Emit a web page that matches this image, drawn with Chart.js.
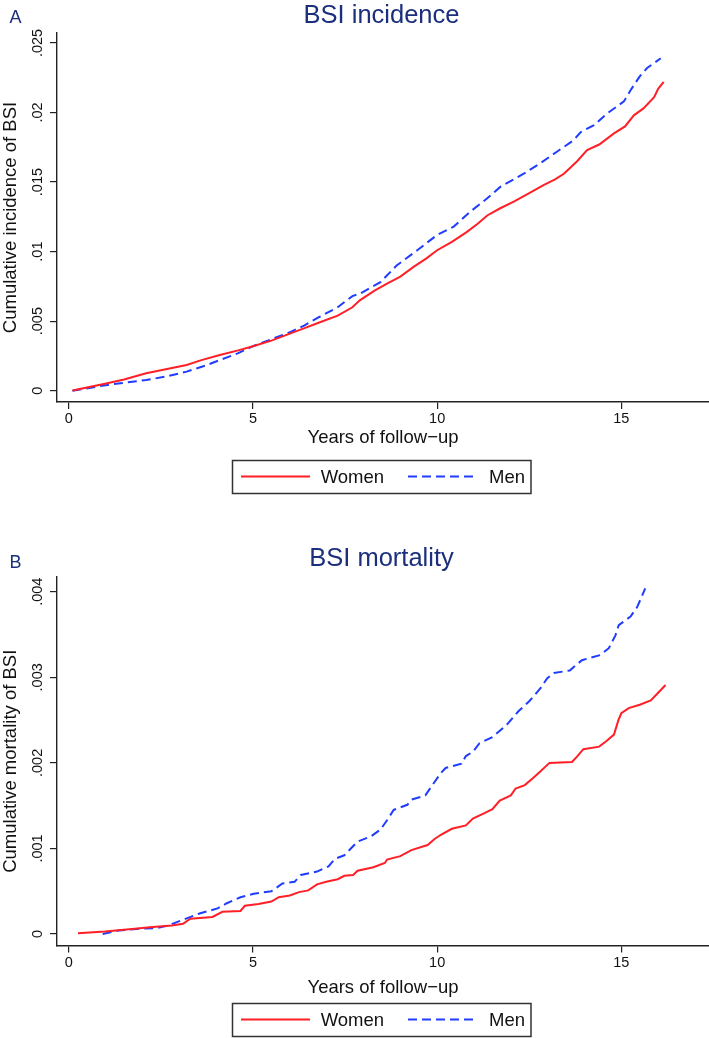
<!DOCTYPE html>
<html>
<head>
<meta charset="utf-8">
<script src="https://cdn.jsdelivr.net/npm/chart.js@4.4.1/dist/chart.umd.min.js"></script>
<style>
  html, body { margin: 0; padding: 0; background: #fff; }
  body { width: 709px; height: 1038px; position: relative; overflow: hidden; font-family: "Liberation Sans", Arial, Helvetica, sans-serif; }
  canvas { position: absolute; left: 0; }
  #cA { top: 0; }
  #cB { top: 519px; }
  svg.ov { position: absolute; left: 0; top: 0; pointer-events: none; }
</style>
</head>
<body>
<canvas id="cA" width="709" height="460"></canvas>
<canvas id="cB" width="709" height="484"></canvas>
<svg class="ov" width="709" height="1038" xmlns="http://www.w3.org/2000/svg" id="ov"></svg>
<script>
// ---------------- DATA ----------------
const seriesNames = ["Women", "Men"];
const panelLetters = ["A", "B"];
const panelTitles = ["BSI incidence", "BSI mortality"];
const yTitles = ["Cumulative incidence of BSI", "Cumulative mortality of BSI"];
const xTitle = "Years of follow\u2212up";

const xTickValues = [0, 5, 10, 15];
const xTickLabels = ["0", "5", "10", "15"];
const yTickValuesA = [0, 0.005, 0.01, 0.015, 0.02, 0.025];
const yTickLabelsA = ["0", ".005", ".01", ".015", ".02", ".025"];
const yTickValuesB = [0, 0.001, 0.002, 0.003, 0.004];
const yTickLabelsB = ["0", ".001", ".002", ".003", ".004"];

// Panel A – cumulative incidence
const womenA_years = [0.1, 0.95, 1.5, 2.1, 2.6, 3.2, 3.6, 4.1, 4.6, 5.0, 5.5, 6.0, 6.4, 6.8, 7.3, 7.7, 7.9, 8.3, 8.64, 9.0, 9.36, 9.7, 10.0, 10.4, 10.8, 11.1, 11.36, 11.7, 12.08, 12.5, 12.9, 13.2, 13.44, 13.8, 14.07, 14.4, 14.8, 15.1, 15.34, 15.6, 15.89, 16.0, 16.15];
const womenA_cum   = [0.00002, 0.00048, 0.0008, 0.00125, 0.00152, 0.00185, 0.0022, 0.00257, 0.0029, 0.0032, 0.0036, 0.0041, 0.0045, 0.0049, 0.0054, 0.006, 0.0065, 0.0072, 0.0077, 0.0082, 0.0089, 0.0095, 0.0101, 0.0107, 0.0114, 0.012, 0.0126, 0.0131, 0.0136, 0.0142, 0.0148, 0.0152, 0.0156, 0.0165, 0.0173, 0.0177, 0.0185, 0.019, 0.0198, 0.0203, 0.0211, 0.0217, 0.0222];
const menA_years = [0.1, 1.0, 1.6, 2.1, 2.6, 3.2, 3.7, 4.1, 4.6, 5.0, 5.5, 6.0, 6.4, 6.8, 7.3, 7.7, 7.92, 8.46, 8.9, 9.46, 10.0, 10.45, 10.9, 11.36, 11.72, 12.35, 12.8, 13.26, 13.7, 13.9, 14.26, 14.6, 15.07, 15.25, 15.5, 15.7, 16.07];
const menA_cum   = [0, 0.0004, 0.0006, 0.00077, 0.001, 0.00137, 0.0018, 0.0022, 0.0027, 0.0032, 0.0037, 0.0042, 0.0047, 0.0053, 0.006, 0.0068, 0.007, 0.0078, 0.009, 0.0101, 0.0112, 0.0118, 0.01287, 0.01383, 0.01467, 0.0156, 0.01635, 0.0172, 0.018, 0.0186, 0.0191, 0.0199, 0.0208, 0.0216, 0.0226, 0.0232, 0.0239];

// Panel B – cumulative mortality
const womenB_years = [0.25, 0.98, 1.72, 2.2, 2.8, 3.1, 3.3, 3.9, 4.17, 4.66, 4.78, 5.15, 5.5, 5.7, 6.0, 6.25, 6.5, 6.74, 6.99, 7.3, 7.48, 7.72, 7.84, 8.27, 8.58, 8.64, 9.0, 9.3, 9.74, 9.93, 10.1, 10.4, 10.78, 10.97, 11.27, 11.5, 11.7, 12.0, 12.13, 12.38, 12.62, 12.8, 13.05, 13.66, 13.79, 13.97, 14.4, 14.58, 14.8, 14.92, 15.0, 15.2, 15.5, 15.8, 16.0, 16.2];
const womenB_cum   = [0.00001, 0.00003, 0.00006, 0.00008, 0.0001, 0.00012, 0.00018, 0.0002, 0.00026, 0.00027, 0.00033, 0.00035, 0.00038, 0.00043, 0.00045, 0.00049, 0.00051, 0.00058, 0.00061, 0.00064, 0.00068, 0.00069, 0.00074, 0.00078, 0.00083, 0.00087, 0.00091, 0.00098, 0.00104, 0.00111, 0.00116, 0.00123, 0.00127, 0.00135, 0.00141, 0.00146, 0.00156, 0.00162, 0.0017, 0.00174, 0.00183, 0.0019, 0.002, 0.00201, 0.00207, 0.00216, 0.00219, 0.00225, 0.00233, 0.0025, 0.00258, 0.00264, 0.00268, 0.00273, 0.00282, 0.00291];
const menB_years = [0.92, 1.35, 1.84, 2.39, 2.7, 3.06, 3.55, 4.04, 4.29, 4.66, 5.02, 5.5, 5.8, 6.13, 6.3, 6.74, 7.05, 7.23, 7.48, 7.84, 8.2, 8.46, 8.64, 8.82, 9.19, 9.3, 9.68, 9.87, 10.1, 10.23, 10.66, 10.78, 10.97, 11.15, 11.5, 11.9, 12.2, 12.5, 12.8, 12.99, 13.17, 13.6, 13.93, 14.43, 14.66, 14.84, 14.93, 15.25, 15.43, 15.65];
const menB_cum   = [0, 0.00004, 0.00006, 0.00007, 0.0001, 0.00016, 0.00024, 0.0003, 0.00036, 0.00043, 0.00047, 0.0005, 0.00059, 0.00061, 0.00069, 0.00073, 0.00079, 0.00088, 0.00092, 0.00108, 0.00114, 0.00122, 0.00133, 0.00145, 0.00151, 0.00157, 0.00162, 0.00174, 0.00188, 0.00194, 0.00199, 0.00208, 0.00213, 0.00223, 0.0023, 0.00245, 0.0026, 0.00272, 0.00287, 0.00299, 0.00305, 0.00308, 0.0032, 0.00326, 0.00334, 0.00349, 0.00361, 0.00371, 0.00382, 0.00404];

// ---------------- STYLE ----------------
const FONT = '"Liberation Sans", Arial, Helvetica, sans-serif';
const RED = '#ff1f26';
const BLUE = '#1f3cff';
const NAVY = '#1b2f7d';
const AXIS = '#222222';
const DASH = [9, 5];

function pts(xs, ys) { return xs.map((x, i) => ({ x: x, y: ys[i] })); }

function makeChart(id, cfg) {
  const ctx = document.getElementById(id).getContext('2d');
  return new Chart(ctx, {
    type: 'line',
    data: {
      datasets: [
        { label: seriesNames[0], data: pts(cfg.wx, cfg.wy), borderColor: RED, borderWidth: 2, pointRadius: 0, tension: 0, fill: false },
        { label: seriesNames[1], data: pts(cfg.mx, cfg.my), borderColor: BLUE, borderWidth: 2, borderDash: DASH, pointRadius: 0, tension: 0, fill: false }
      ]
    },
    options: {
      responsive: false,
      animation: false,
      devicePixelRatio: 1,
      layout: { padding: { top: cfg.padTop, left: 0, right: 0, bottom: 0 } },
      plugins: { legend: { display: false }, tooltip: { enabled: false }, title: { display: false } },
      scales: {
        x: {
          type: 'linear',
          min: -0.32, max: 17.38,
          afterBuildTicks: s => { s.ticks = xTickValues.map(v => ({ value: v })); },
          afterFit: s => { s.height = cfg.xH; },
          ticks: {
            callback: (v, i) => xTickLabels[i],
            font: { family: FONT, size: 14.5 }, color: '#111', padding: cfg.xTickPad,
            maxRotation: 0, minRotation: 0, autoSkip: false
          },
          grid: { drawOnChartArea: false, drawTicks: true, tickLength: 7, color: AXIS, lineWidth: 1.2 },
          border: { display: true, color: AXIS, width: 1.4 },
          title: { display: true, text: xTitle, font: { family: FONT, size: 18.5 }, color: '#111', padding: { top: 0, bottom: cfg.xTitlePad } }
        },
        y: {
          type: 'linear',
          min: cfg.ymin, max: cfg.ymax,
          afterBuildTicks: s => { s.ticks = cfg.yTicks.map(v => ({ value: v })); },
          afterFit: s => { s.width = 57; },
          ticks: {
            callback: (v, i) => cfg.yLabels[i],
            font: { family: FONT, size: 14.5 }, color: '#111', padding: -2.3,
            minRotation: 90, maxRotation: 90, crossAlign: 'center', autoSkip: false
          },
          grid: { drawOnChartArea: false, drawTicks: true, tickLength: 7, color: AXIS, lineWidth: 1.2 },
          border: { display: true, color: AXIS, width: 1.4 },
          title: { display: true, text: cfg.yTitle, font: { family: FONT, size: 18.5 }, color: '#111', padding: { top: 0, bottom: 0 } }
        }
      }
    }
  });
}

makeChart('cA', {
  wx: womenA_years, wy: womenA_cum, mx: menA_years, my: menA_cum,
  padTop: 33, xH: 58, xTickPad: 1.7, xTitlePad: 10.5,
  ymin: -0.000812, ymax: 0.025719,
  yTicks: yTickValuesA, yLabels: yTickLabelsA, yTitle: yTitles[0]
});
makeChart('cB', {
  wx: womenB_years, wy: womenB_cum, mx: menB_years, my: menB_cum,
  padTop: 58, xH: 57.5, xTickPad: 1.5, xTitlePad: 4,
  ymin: -0.000134, ymax: 0.004172,
  yTicks: yTickValuesB, yLabels: yTickLabelsB, yTitle: yTitles[1]
});

// ---------------- TITLES & LEGENDS (SVG overlay, real text) ----------------
const ov = document.getElementById('ov');
const NS = 'http://www.w3.org/2000/svg';
function el(tag, attrs, text) {
  const e = document.createElementNS(NS, tag);
  for (const k in attrs) e.setAttribute(k, attrs[k]);
  if (text !== undefined) e.textContent = text;
  ov.appendChild(e);
  return e;
}
const panels = [
  { letterY: 23.3, titleY: 22.7, legendTop: 460 },
  { letterY: 568, titleY: 565.7, legendTop: 1003 }
];
panels.forEach((p, i) => {
  el('text', { x: 9.5, y: p.letterY, fill: NAVY, 'font-family': FONT, 'font-size': 18 }, panelLetters[i]);
  el('text', { x: 381.5, y: p.titleY, fill: NAVY, 'font-family': FONT, 'font-size': 25.5, 'text-anchor': 'middle' }, panelTitles[i]);
  const t = p.legendTop;
  el('rect', { x: 232.5, y: t + 0.5, width: 298.5, height: 33, fill: 'none', stroke: '#333', 'stroke-width': 1.5 });
  el('line', { x1: 241, x2: 310, y1: t + 16.5, y2: t + 16.5, stroke: RED, 'stroke-width': 2 });
  el('text', { x: 320.7, y: t + 23, fill: '#111', 'font-family': FONT, 'font-size': 18.5 }, seriesNames[0]);
  el('line', { x1: 408, x2: 477, y1: t + 16.5, y2: t + 16.5, stroke: BLUE, 'stroke-width': 2, 'stroke-dasharray': DASH.join(' ') });
  el('text', { x: 489, y: t + 23, fill: '#111', 'font-family': FONT, 'font-size': 18.5 }, seriesNames[1]);
});
</script>
</body>
</html>
